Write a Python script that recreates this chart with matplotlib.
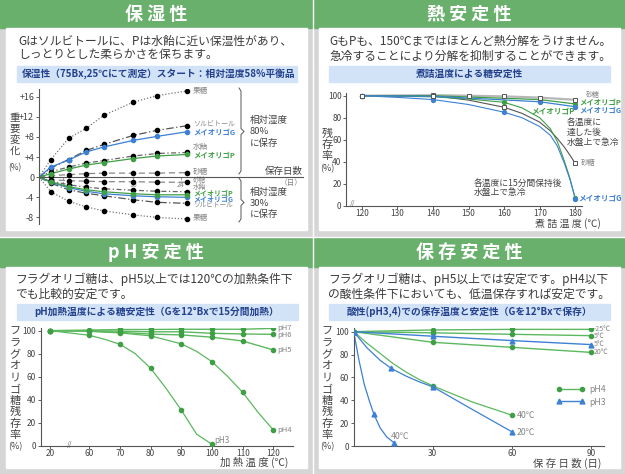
import numpy as np
import matplotlib
matplotlib.use('Agg')
import matplotlib.pyplot as plt
from matplotlib.patches import Rectangle
from matplotlib.lines import Line2D

plt.rcParams['font.family'] = ['Noto Sans CJK JP', 'DejaVu Sans']

W, H = 625, 474

GRAY_BG = '#d6d6d6'
HEAD = '#68b06c'
BAR = '#d2e3f7'
BAR_TXT = '#22408c'
TXT = '#3a3a3a'
LBL = '#858585'
GREEN = '#3f9f45'
LGREEN = '#5cb85f'
BLUE = '#3d80d4'

# ---- 保湿性 (weight change %, day) ----
days = [0, 2, 5, 8, 11, 16, 20, 25]
fructose_80 = [0, 3.5, 7.7, 9.7, 12.3, 14.9, 16.2, 17.1]
sorbitol_80 = [0, 1.8, 3.5, 5.3, 6.5, 8.3, 9.3, 10.2]
meioligo_g_80 = [0, 2.0, 3.4, 5.0, 6.0, 7.3, 8.1, 9.0]
syrup_80 = [0, 1.1, 2.0, 2.8, 3.3, 4.2, 4.7, 4.9]
meioligo_p_80 = [0, 0.7, 1.6, 2.4, 2.9, 3.7, 4.2, 4.5]
sugar_80 = [0, 0.3, 0.5, 0.7, 0.8, 0.8, 0.8, 0.9]
fructose_30 = [0, -2.9, -4.8, -5.9, -6.7, -7.5, -8.0, -8.3]
sorbitol_30 = [0, -1.2, -2.5, -3.2, -3.7, -4.5, -5.0, -5.2]
meioligo_g_30 = [0, -1.0, -2.1, -2.8, -3.3, -3.7, -3.9, -4.0]
meioligo_p_30 = [0, -0.9, -1.9, -2.5, -2.9, -3.3, -3.5, -3.5]
syrup_30 = [0, -0.8, -1.5, -2.0, -2.3, -2.6, -2.8, -2.9]
sugar_30 = [0, -0.5, -0.7, -0.8, -0.9, -0.9, -1.0, -1.0]

# ---- 熱安定性 (residual %, boiling temp) ----
temps_quench = [120, 140, 150, 160, 170, 180]
sugar_quench = [100, 100.5, 100, 99.4, 98.3, 96.3]
temps_quench_go = [120, 140, 170, 180]
meioligo_p_quench = [100, 100, 96.5, 92.5]
meioligo_g_quench = [100, 99.5, 94.5, 90]
temps_hold = [120, 140, 160, 180]
sugar_hold = [100, 100, 89.5, 38.5]
meioligo_p_hold = [100, 99, 94, 6.7]
meioligo_g_hold = [100, 96.5, 85, 6.5]
trace_t = [120, 130, 140, 150, 160, 165, 170, 173, 175, 177, 178.5, 180]
sugar_hold_tr = [100, 100, 100, 96, 89.5, 84, 76, 68, 61, 53, 46, 38.5]
meioligo_p_hold_tr = [100, 99.5, 99, 97, 94, 89, 80, 70, 58, 40, 25, 6.7]
meioligo_g_hold_tr = [100, 98.5, 96.5, 92, 85, 80, 72, 64, 54, 38, 24, 6.5]

# ---- pH安定性 (residual %, heating temp) ----
ph_temps = [20, 60, 70, 80, 90, 100, 110, 120]
ph7 = [100, 100.5, 101, 101, 101.2, 101.2, 101.2, 102]
ph6 = [100, 100, 99.5, 99, 99, 97.7, 97.1, 96.8]
ph5 = [100, 99.5, 98.5, 97, 96.3, 94.3, 91, 83.2]
ph4 = [100, 99.5, 98, 95.5, 88.5, 73, 46.4, 13.6]
ph3_temps = [20, 60, 70, 80, 90, 100]
ph3 = [100, 96, 88.2, 67.3, 31, 1.2]
ph4_tr_t = [20, 60, 70, 80, 90, 95, 100, 105, 110, 115, 120]
ph4_tr = [100, 99.5, 98, 95.5, 88.5, 82, 73, 60.5, 46.4, 29, 13.6]
ph3_tr_t = [20, 60, 65, 70, 75, 80, 85, 90, 95, 100]
ph3_tr = [100, 96, 92.5, 88.2, 80, 67.3, 50, 31, 10, 1.2]
BREAK_POS = 47.2  # where "20" sits on the broken axis

# ---- 保存安定性 (residual %, storage days) ----
store_days = [0, 30, 60, 90]
ph4_m25 = [100, 101.5, 102, 102]
ph4_5 = [100, 99, 97.7, 96.5]
ph4_20 = [100, 90.7, 86.3, 81.9]
ph3_5 = [100, 96, 92.2, 88.7]
ph4_40_days = [0, 30, 60]
ph4_40 = [100, 52.6, 27]
ph3_20_days = [0, 14.3, 30, 60]
ph3_20 = [100, 67.8, 51.8, 12.5]
ph3_40_days = [0, 7.7, 15.2]
ph3_40 = [100, 27.6, 3]
ph4_40_tr_d = [0, 5, 10, 15, 20, 25, 30, 45, 60]
ph4_40_tr = [100, 90, 81, 72, 64.5, 58, 52.6, 38.5, 27]
ph3_20_tr_d = [0, 5, 10, 14.3, 20, 25, 30, 45, 60]
ph3_20_tr = [100, 86, 75, 67.8, 61, 56, 51.8, 32, 12.5]
ph3_40_tr_d = [0, 2, 4, 6, 7.7, 10, 12.5, 15.2]
ph3_40_tr = [100, 75, 54, 39, 27.6, 16, 8, 3]


fig = plt.figure(figsize=(W / 100, H / 100), dpi=100)
bg = fig.add_axes([0, 0, 1, 1])
bg.set_xlim(0, W)
bg.set_ylim(H, 0)
bg.axis('off')
bg.set_zorder(-1)

bg.add_patch(Rectangle((0, 0), W, H, color=GRAY_BG))
for x0, x1 in [(0, 312), (313, 625)]:
    for hy0, hy1, cy1 in [(0, 28, 230), (238, 267, 468)]:
        bg.add_patch(Rectangle((x0, hy0), x1 - x0, hy1 - hy0, color=HEAD))
        bg.add_patch(Rectangle((x0 + 6, hy1), x1 - x0 - 11, cy1 - hy1, color='white'))
bg.plot([312.5, 312.5], [0, H], color='white', lw=1)
bg.plot([0, W], [236.5, 236.5], color='white', lw=1)

headers = [(156, 14, '保 湿 性'), (469, 14, '熱 安 定 性'),
           (156, 252, 'p H 安 定 性'), (469, 252, '保 存 安 定 性')]
for x, y, s in headers:
    bg.text(x, y, s, color='white', fontsize=13, fontweight='bold', ha='center', va='center')

body = [(18, 41.5, 'Gはソルビトールに、Pは水飴に近い保湿性があり、'),
        (18, 54.5, 'しっとりとした柔らかさを保ちます。'),
        (329, 41.5, 'GもPも、150℃まではほとんど熱分解をうけません。'),
        (329, 56, '急冷することにより分解を抑制することができます。'),
        (15, 279, 'フラグオリゴ糖は、pH5以上では120℃の加熱条件下'),
        (15, 294, 'でも比較的安定です。'),
        (328, 279, 'フラグオリゴ糖は、pH5以上では安定です。pH4以下'),
        (328, 294, 'の酸性条件下においても、低温保存すれば安定です。')]
for x, y, s in body:
    bg.text(x, y, s, color=TXT, fontsize=8.5, ha='left', va='center')

bars = [(16.5, 66, 297, 82, 22, 'left', '保湿性（75Bx,25℃にて測定）スタート：相対湿度58%平衡品'),
        (328.5, 66, 610, 82, 469, 'center', '煮詰温度による糖安定性'),
        (16.5, 304, 297.5, 320, 157, 'center', 'pH加熱温度による糖安定性（Gを12°Bxで15分間加熱）'),
        (328.5, 304, 610, 320, 469, 'center', '酸性(pH3,4)での保存温度と安定性（Gを12°Bxで保存）')]
for x0, y0, x1, y1, tx, ha, s in bars:
    bg.add_patch(Rectangle((x0, y0), x1 - x0, y1 - y0, color=BAR))
    bg.text(tx, (y0 + y1) / 2, s, color=BAR_TXT, fontsize=7, fontweight='bold', ha=ha, va='center')


def chart(x0, y0, x1, y1):
    ax = fig.add_axes([x0 / W, 1 - y1 / H, (x1 - x0) / W, (y1 - y0) / H])
    ax.patch.set_alpha(0)
    ax.spines['top'].set_visible(False)
    ax.spines['right'].set_visible(False)
    for s in ['left', 'bottom']:
        ax.spines[s].set_color('#555')
        ax.spines[s].set_linewidth(0.8)
    ax.tick_params(labelsize=6, colors='#444', length=2, width=0.6, pad=1.5)
    ax.tick_params(axis='x', pad=0.5)
    return ax


def stack(x, y0, step, chars, size=8):
    for i, c in enumerate(chars):
        bg.text(x, y0 + i * step, c, fontsize=size, color='#444', ha='center', va='center')


def brace(x, y0, y1, ym):
    bg.plot([x, x + 2, x + 2, x + 5, x + 2, x + 2, x],
            [y0, y0 + 3, ym - 3, ym, ym + 3, y1 - 3, y1], color='#555', lw=0.7)


# ================= 保湿性 =================
ax1 = chart(39, 89, 303, 224)
ax1.set_xlim(0, 44.7)
ax1.set_ylim(-9.3, 17.5)
ax1.spines['bottom'].set_position(('data', 0))
ax1.set_yticks([-8, -4, 0, 4, 8, 12, 16])
ax1.set_yticklabels(['-8', '-4', '0', '+4', '+8', '+12', '+16'])
ax1.tick_params(axis='y', labelsize=6.5)
ax1.set_xticks([4, 8, 16, 24])
ax1.tick_params(axis='x', labelsize=5, colors='#888', pad=0.5)

styles = [
    (fructose_80, '#777', (0, (1, 1.5)), 'k'),
    (sorbitol_80, '#555', (0, (6, 2, 1, 2)), 'k'),
    (syrup_80, '#666', (0, (4, 2, 1, 2)), 'k'),
    (sugar_80, '#888', (0, (5, 3)), 'k'),
    (fructose_30, '#777', (0, (1, 1.5)), 'k'),
    (sorbitol_30, '#555', (0, (6, 2, 1, 2)), 'k'),
    (syrup_30, '#666', (0, (4, 2, 1, 2)), 'k'),
    (sugar_30, '#888', (0, (5, 3)), 'k'),
    (meioligo_g_80, BLUE, '-', BLUE),
    (meioligo_p_80, GREEN, '-', GREEN),
    (meioligo_g_30, BLUE, '-', BLUE),
    (meioligo_p_30, GREEN, '-', GREEN),
]
for vals, col, ls, mc in styles:
    ax1.plot(days[1:], vals[1:], ls='none', marker='o', ms=3, color=mc, zorder=3)
    ax1.plot(days, vals, ls=ls, lw=0.9, color=col, zorder=2)

lab1 = [(91, '果糖', LBL, 5.5, 'normal'), (123.5, 'ソルビトール', LBL, 5, 'normal'),
        (132, 'メイオリゴG', BLUE, 5.3, 'bold'), (147, '水飴', LBL, 5.5, 'normal'),
        (155, 'メイオリゴP', GREEN, 5.3, 'bold'), (172, '砂糖', LBL, 5.5, 'normal'),
        (180.2, '砂糖', LBL, 4.8, 'normal'), (186.8, '水飴', LBL, 4.8, 'normal'),
        (192.8, 'メイオリゴP', GREEN, 5, 'bold'), (198.8, 'メイオリゴG', BLUE, 5, 'bold'),
        (205.5, 'ソルビトール', LBL, 4.8, 'normal'), (218, '果糖', LBL, 5.5, 'normal')]
for y, s, c, fs, fw in lab1:
    bg.text(193, y, s, color=c, fontsize=fs, fontweight=fw, ha='left', va='center')

brace(239, 88, 174, 131.5)
brace(239, 178, 222, 202.5)
for y, s in [(120, '相対湿度'), (131.5, '80%'), (143, 'に保存'),
             (192.5, '相対湿度'), (203.5, '30%'), (214, 'に保存')]:
    bg.text(250, y, s, color='#444', fontsize=6.8, ha='left', va='center')
bg.text(303, 171.5, '保存日数', color='#444', fontsize=6.8, ha='right', va='center')
bg.text(303, 183, '（日）', color=LBL, fontsize=5.5, ha='right', va='center')
stack(15, 118, 11, ['重', '要', '変', '化'], 7.5)
bg.text(15, 168, '(%)', fontsize=6, color='#444', ha='center', va='center')

# ================= 熱安定性 =================
ax2 = chart(346.3, 93.3, 582, 205.7)
ax2.set_xlim(115.6, 181.9)
ax2.set_ylim(0, 102.2)
ax2.set_xticks(range(120, 181, 10))
ax2.set_yticks(range(0, 101, 20))

ax2.plot(temps_quench, sugar_quench, color='#999', lw=1.6, alpha=0.7, zorder=2)
ax2.plot(temps_quench, sugar_quench, ls='none', marker='s', ms=3.5, mfc='white', mec='#555', mew=0.7, zorder=4)
ax2.plot(temps_quench_go, meioligo_p_quench, color=GREEN, lw=0.9, marker='o', ms=2.8, zorder=3)
ax2.plot(temps_quench_go, meioligo_g_quench, color=BLUE, lw=0.9, marker='o', ms=2.8, zorder=3)
ax2.plot(trace_t, sugar_hold_tr, color='#555', lw=0.8, zorder=2)
ax2.plot(trace_t, meioligo_p_hold_tr, color=GREEN, lw=0.8, zorder=2)
ax2.plot(trace_t, meioligo_g_hold_tr, color=BLUE, lw=0.8, zorder=2)
ax2.plot(temps_hold, sugar_hold, ls='none', marker='s', ms=3.5, mfc='white', mec='#555', mew=0.7, zorder=4)
ax2.plot(temps_hold, meioligo_p_hold, ls='none', marker='o', ms=2.8, color=GREEN, zorder=3)
ax2.plot(temps_hold, meioligo_g_hold, ls='none', marker='o', ms=2.8, color=BLUE, zorder=3)

bg.text(586, 95, '砂糖', color=LBL, fontsize=5, ha='left', va='center')
bg.text(579, 102.5, 'メイオリゴP', color=GREEN, fontsize=5.3, fontweight='bold', ha='left', va='center')
bg.text(579, 110, 'メイオリゴG', color=BLUE, fontsize=5.3, fontweight='bold', ha='left', va='center')
bg.text(531, 112, 'メイオリゴP', color=GREEN, fontsize=5.5, fontweight='bold', ha='left', va='center')
bg.text(581, 163.5, '砂糖', color=LBL, fontsize=5.3, ha='left', va='center')
bg.text(578, 198.5, 'メイオリゴG', color=BLUE, fontsize=5.5, fontweight='bold', ha='left', va='center')
for y, s in [(122, '各温度に'), (132.5, '達した後'), (143, '水盤上で急冷')]:
    bg.text(567, y, s, color='#444', fontsize=6.3, ha='left', va='center')
bg.text(474, 183, '各温度に15分間保持後', color='#444', fontsize=6.3, ha='left', va='center')
bg.text(474, 193, '水盤上で急冷', color='#444', fontsize=6.3, ha='left', va='center')
bg.text(352.5, 204, '//', color='#666', fontsize=5, ha='center', va='center')
stack(327, 133.5, 11.5, ['残', '存', '率'], 8)
bg.text(327, 168.5, '(%)', fontsize=6.5, color='#444', ha='center', va='center')
bg.text(601, 223.5, '煮 詰 温 度 (℃)', color='#444', fontsize=7.2, ha='right', va='center')

# ================= pH安定性 =================
ax3 = chart(40.7, 328, 292.7, 445.7)
ax3.set_xlim(44.2, 126.3)
ax3.set_ylim(0, 102.3)
ph_pos = [BREAK_POS if t == 20 else t for t in ph_temps]
ph3_pos = [BREAK_POS if t == 20 else t for t in ph3_temps]
ax3.set_xticks(ph_pos)
ax3.set_xticklabels([str(t) for t in ph_temps])
ax3.set_yticks(range(0, 101, 20))
ph4_tr_pos = [BREAK_POS if t == 20 else t for t in ph4_tr_t]
ph3_tr_pos = [BREAK_POS if t == 20 else t for t in ph3_tr_t]
for vals in [ph7, ph6, ph5]:
    ax3.plot(ph_pos, vals, color=LGREEN, lw=1.0, marker='o', ms=3, mfc=GREEN, mec=GREEN, zorder=3)
ax3.plot(ph4_tr_pos, ph4_tr, color=LGREEN, lw=0.9, zorder=2)
ax3.plot(ph_pos, ph4, ls='none', marker='o', ms=3, color=GREEN, zorder=3)
ax3.plot(ph3_tr_pos, ph3_tr, color=LGREEN, lw=0.9, zorder=2)
ax3.plot(ph3_pos, ph3, ls='none', marker='o', ms=3, color=GREEN, zorder=3)
for y, s in [(328, 'pH7'), (335.3, 'pH6'), (349.5, 'pH5'), (430.5, 'pH4')]:
    bg.text(277, y, s, color=LBL, fontsize=5.5, ha='left', va='center')
bg.text(214, 440.5, 'pH3', color=LBL, fontsize=5.8, ha='left', va='center')
bg.text(70, 445, '//', color='#666', fontsize=5, ha='center', va='center')
stack(15, 331.7, 11.5, ['フ', 'ラ', 'グ', 'オ', 'リ', 'ゴ', '糖', '残', '存', '率'], 8)
bg.text(15, 447, '(%)', fontsize=6.5, color='#444', ha='center', va='center')
bg.text(288, 462.5, '加 熱 温 度 (℃)', color='#444', fontsize=7.5, ha='right', va='center')

# ================= 保存安定性 =================
ax4 = chart(353.7, 328, 603.7, 446)
ax4.set_xlim(0, 94.9)
ax4.set_ylim(0, 103.2)
ax4.set_xticks([30, 60, 90])
ax4.set_yticks(range(0, 101, 20))
for vals in [ph4_m25, ph4_5, ph4_20]:
    ax4.plot(store_days, vals, color=LGREEN, lw=1.0, marker='o', ms=3, mfc=GREEN, mec=GREEN, zorder=3)
ax4.plot(store_days, ph3_5, color=BLUE, lw=1.0, marker='^', ms=3.5, zorder=3)
ax4.plot(ph4_40_tr_d, ph4_40_tr, color=LGREEN, lw=0.9, zorder=2)
ax4.plot(ph4_40_days, ph4_40, ls='none', marker='o', ms=3, color=GREEN, zorder=3)
ax4.plot(ph3_20_tr_d, ph3_20_tr, color=BLUE, lw=0.9, zorder=2)
ax4.plot(ph3_20_days, ph3_20, ls='none', marker='^', ms=3.5, color=BLUE, zorder=3)
ax4.plot(ph3_40_tr_d, ph3_40_tr, color=BLUE, lw=0.9, zorder=2)
ax4.plot(ph3_40_days, ph3_40, ls='none', marker='^', ms=3.5, color=BLUE, zorder=3)

h4 = Line2D([], [], color=LGREEN, lw=1, marker='o', ms=3, mfc=GREEN, mec=GREEN)
h3 = Line2D([], [], color=BLUE, lw=1, marker='^', ms=3.5)
leg = ax4.legend([h4, h3], ['pH4', 'pH3'], loc='upper left', bbox_to_anchor=(0.795, 0.55),
                 frameon=False, numpoints=2, handlelength=3.2, fontsize=6.3,
                 labelspacing=0.35, handletextpad=0.5, borderpad=0)
for t in leg.get_texts():
    t.set_color(LBL)

for y, s in [(329, '-25℃'), (336.3, '5℃'), (344, '5℃'), (352.5, '20℃')]:
    bg.text(594, y, s, color=LBL, fontsize=5, ha='left', va='center')
bg.text(517, 415, '40℃', color=LBL, fontsize=6.3, ha='left', va='center')
bg.text(517, 432.5, '20℃', color=LBL, fontsize=6.3, ha='left', va='center')
bg.text(400, 436.5, '40℃', color=LBL, fontsize=6.3, ha='center', va='center')
stack(327, 331.7, 11.5, ['フ', 'ラ', 'グ', 'オ', 'リ', 'ゴ', '糖', '残', '存', '率'], 8)
bg.text(327, 447, '(%)', fontsize=6.5, color='#444', ha='center', va='center')
bg.text(601, 463, '保 存 日 数 (日)', color='#444', fontsize=7.5, ha='right', va='center')

fig.savefig('out.png', dpi=100)
